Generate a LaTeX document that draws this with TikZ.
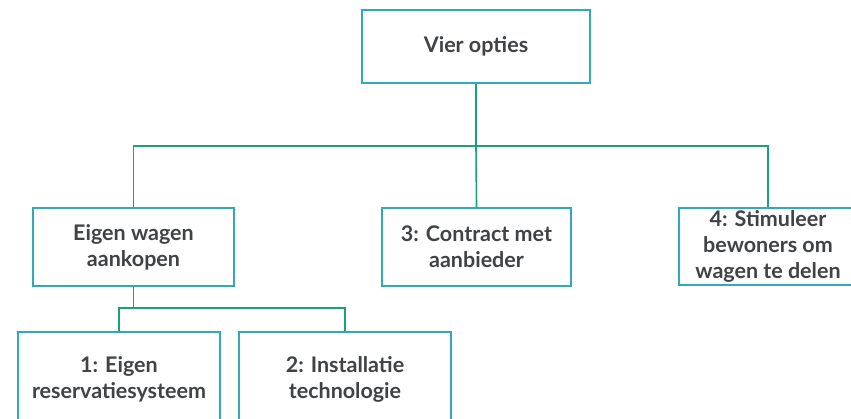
\documentclass[tikz,border=0pt]{standalone}
\usepackage{fontspec}
\setmainfont{Lato}
\usepackage{xcolor}
\definecolor{boxteal}{RGB}{48,170,182}
\definecolor{linkgreen}{RGB}{28,160,120}
\definecolor{txtgray}{RGB}{64,67,70}
\usetikzlibrary{positioning,calc}

\begin{document}
\begin{tikzpicture}[x=1pt, y=-1pt,
  optbox/.style={rectangle, draw=boxteal, line width=1.6pt, fill=white,
                 inner sep=0pt, align=center, text=txtgray,
                 font=\fontsize{21.5}{26}\selectfont\bfseries},
  link/.style={draw=linkgreen, line width=1.6pt}
]
\useasboundingbox (0,0) rectangle (851,419);

\node[optbox, minimum width=228pt, minimum height=73pt] (top)  at (476,46.5)  {Vier opties};
\node[optbox, minimum width=201pt, minimum height=78pt] (opt1) at (133.5,247) {Eigen wagen\\aankopen};
\node[optbox, minimum width=189pt, minimum height=78pt] (opt3) at (476.5,247) {3: Contract met\\aanbieder};
\node[optbox, minimum width=178pt, minimum height=77pt] (opt4) at (768,246.5) {4: Stimuleer\\bewoners om\\wagen te delen};
\node[optbox, minimum width=202pt, minimum height=95pt] (sub1) at (119,379.5) {1: Eigen\\reservatiesysteem};
\node[optbox, minimum width=212pt, minimum height=95pt] (sub2) at (345,379.5) {2: Installatie\\technologie};

\coordinate (bar) at (476,146);
\coordinate (subbar) at (133.5,308);

\draw[link] (top.south) -- (top.south |- bar) -| (opt1.north);
\draw[link] (top.south |- bar) -| (opt4.north);
\draw[link] (top.south |- bar) -- (opt3.north);
\draw[link] (opt1.south) -- (subbar) -| (sub1.north);
\draw[link] (subbar) -| (sub2.north);
\end{tikzpicture}
\end{document}
